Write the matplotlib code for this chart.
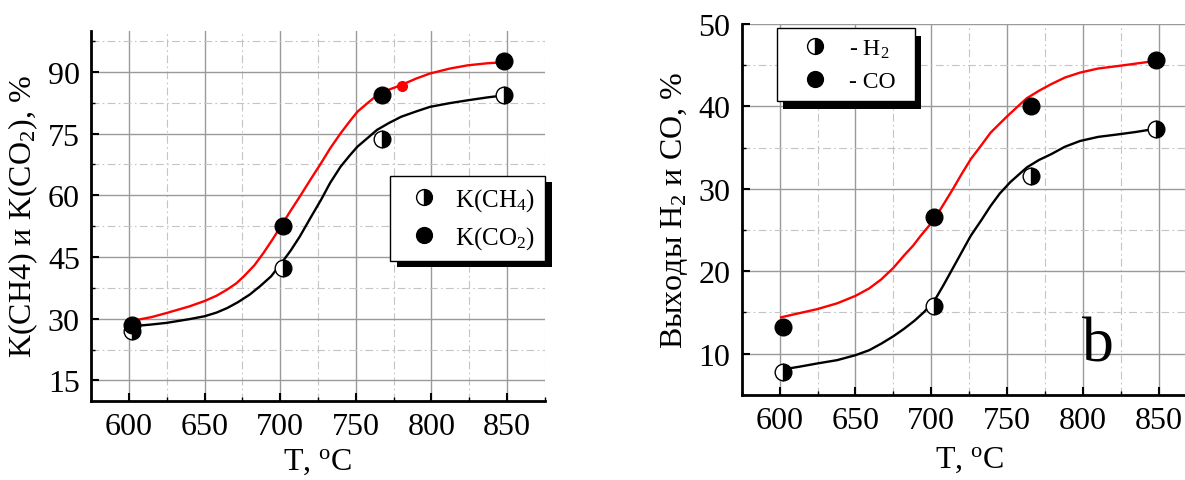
import matplotlib
matplotlib.use("Agg")
import matplotlib.pyplot as plt
from matplotlib.patches import Rectangle
from matplotlib.ticker import MultipleLocator
from matplotlib.transforms import IdentityTransform

plt.rcParams['font.family'] = ['Liberation Serif', 'DejaVu Serif']
plt.rcParams['mathtext.fontset'] = 'custom'
plt.rcParams['mathtext.rm'] = 'Liberation Serif'
plt.rcParams['mathtext.it'] = 'Liberation Serif:italic'

# --- panel a: conversion of CH4 and CO2 ---
T_pts_a = [602, 702, 767, 848]
ch4_pts = [27.0, 42.3, 73.6, 84.3]
co2_pts = [28.4, 52.5, 84.3, 92.6]
T_extra = [780.5]
co2_extra = [86.5]

T_co2_fit = [601, 615, 625, 640, 650, 658, 665, 671, 676, 683, 689, 695, 701, 707, 713, 720, 727, 733,
             740, 746, 751, 758, 764, 772, 780, 790, 799, 812, 824, 837, 850]
co2_fit = [29.4, 30.4, 31.4, 33.0, 34.3, 35.6, 37.1, 38.6, 40.3, 43.0, 46.0, 49.3, 52.8, 56.3, 59.7, 63.8,
           67.8, 71.4, 75.1, 78.0, 80.3, 82.5, 84.3, 85.7, 86.8, 88.4, 89.6, 90.8, 91.6, 92.1, 92.4]
T_ch4_fit = [603, 615, 625, 640, 650, 658, 665, 672, 680, 687, 694, 701, 707, 713, 720, 727, 733, 740,
             746, 751, 758, 764, 772, 780, 790, 799, 812, 824, 837, 848]
ch4_fit = [28.2, 28.6, 29.0, 29.9, 30.6, 31.5, 32.6, 34.0, 35.9, 38.0, 40.3, 43.6, 46.6, 50.0, 54.5, 58.9,
           63.0, 67.0, 69.7, 71.8, 74.0, 75.9, 77.6, 79.1, 80.4, 81.5, 82.4, 83.1, 83.8, 84.3]

# --- panel b: yields of H2 and CO ---
T_pts_b = [602, 702, 766, 848]
h2_pts = [7.7, 15.8, 31.6, 37.3]
co_pts = [13.2, 26.6, 40.0, 45.6]

T_co_fit = [601, 613, 625, 638, 650, 659, 667, 675, 682, 688, 693, 698, 702, 708, 714, 720, 726, 733,
            739, 745, 750, 757, 763, 771, 779, 788, 798, 810, 823, 835, 847]
co_fit = [14.4, 14.9, 15.4, 16.1, 17.0, 17.9, 19.0, 20.4, 21.9, 23.1, 24.3, 25.4, 26.3, 28.1, 29.9, 31.8,
          33.6, 35.3, 36.8, 37.9, 38.8, 40.0, 41.0, 41.9, 42.7, 43.5, 44.1, 44.6, 44.9, 45.2, 45.5]
T_h2_fit = [603, 613, 625, 638, 650, 659, 667, 675, 682, 689, 695, 702, 708, 714, 720, 726, 733, 739,
            745, 752, 763, 771, 779, 788, 798, 810, 823, 835, 845]
h2_fit = [8.1, 8.4, 8.8, 9.2, 9.8, 10.4, 11.2, 12.1, 13.0, 14.0, 15.0, 16.4, 18.3, 20.3, 22.3, 24.3,
          26.2, 27.9, 29.4, 30.8, 32.6, 33.5, 34.2, 35.1, 35.8, 36.3, 36.6, 36.9, 37.2]

x_ticks = [600, 650, 700, 750, 800, 850]

fig = plt.figure(figsize=(11.85, 4.81), dpi=100)
ax1 = fig.add_axes([0.0768, 0.1642, 0.3831, 0.7698])
ax2 = fig.add_axes([0.6259, 0.1773, 0.3841, 0.7707])

half = dict(marker='o', ms=12, ls='none', fillstyle='right', markerfacecolor='black',
            markerfacecoloralt='white', markeredgecolor='black', markeredgewidth=1, zorder=4)
full = dict(marker='o', ms=12, ls='none', color='black', zorder=4)


def style_axes(ax, ylim, ymajor, yminor, xpad):
    ax.set_xlim(575, 875)
    ax.set_ylim(*ylim)
    ax.set_xticks(x_ticks)
    ax.xaxis.set_minor_locator(MultipleLocator(25))
    ax.yaxis.set_major_locator(MultipleLocator(ymajor))
    ax.yaxis.set_minor_locator(MultipleLocator(yminor))
    for s in ('top', 'right'):
        ax.spines[s].set_visible(False)
    for s in ('left', 'bottom'):
        ax.spines[s].set_linewidth(2)
    ax.tick_params(which='major', direction='in', length=6, width=1.5, labelsize=23, pad=8)
    ax.tick_params(which='minor', direction='in', length=3, width=1)
    ax.grid(which='major', color='#9a9a9a', lw=1, ls='-')
    ax.grid(which='minor', color='#c4c4c4', lw=0.8, ls=(0, (7, 3, 1.5, 3)))
    ax.set_axisbelow(True)
    ax.set_xlabel(r'T, $^\mathrm{o}$C', fontsize=23, labelpad=xpad)


def add_legend(ax, handles, labels, anchor, fs, hl, tp, ls):
    leg = ax.legend(handles, labels, loc='upper left', bbox_to_anchor=anchor, mode='expand',
                    fontsize=fs, frameon=True, fancybox=False, framealpha=1, edgecolor='black',
                    borderpad=0.4, labelspacing=ls, handlelength=hl, handletextpad=tp,
                    borderaxespad=0, numpoints=1, markerscale=0.95)
    leg.get_frame().set_linewidth(1)
    return leg


# panel a
style_axes(ax1, (10, 100), 15, 7.5, 4)
ax1.plot(T_co2_fit, co2_fit, color='red', lw=1.7, zorder=3)
ax1.plot(T_ch4_fit, ch4_fit, color='black', lw=1.7, zorder=3)
h_ch4, = ax1.plot(T_pts_a, ch4_pts, **half)
h_co2, = ax1.plot(T_pts_a, co2_pts, **full)
ax1.plot(T_extra, co2_extra, 'o', color='red', ms=7, zorder=4)
ax1.set_ylabel(r'K(CH4) и K(CO$_2$), %', fontsize=23, labelpad=6)
leg1 = add_legend(ax1, [h_ch4, h_co2], [r'K(CH$_4$)', r'K(CO$_2$)'],
                  (0.6586, 0.6076, 0.3414, 0), 18, 1.9, 0.3, 0.45)

# panel b
style_axes(ax2, (5, 50), 10, 5, 7)
ax2.plot(T_co_fit, co_fit, color='red', lw=1.7, zorder=3)
ax2.plot(T_h2_fit, h2_fit, color='black', lw=1.7, zorder=3)
h_h2, = ax2.plot(T_pts_b, h2_pts, **half)
h_co, = ax2.plot(T_pts_b, co_pts, **full)
ax2.set_ylabel(r'Выходы H$_2$ и CO, %', fontsize=23, labelpad=6)
ax2.text(810, 9.2, 'b', fontsize=46, ha='center', va='baseline')
leg2 = add_legend(ax2, [h_h2, h_co], [r'- H$_2$', '- CO'],
                  (0.0776, 0.989, 0.3032, 0), 17, 2.4, 0.25, 0.45)

# black drop shadows behind the legend boxes
fig.canvas.draw()
renderer = fig.canvas.get_renderer()
for ax, leg, (dx, dy) in ((ax1, leg1, (7, 6)), (ax2, leg2, (6, 8))):
    bb = leg.get_window_extent(renderer)
    shadow = Rectangle((bb.x0 + dx, bb.y0 - dy), bb.width, bb.height, transform=IdentityTransform(),
                       facecolor='black', edgecolor='none', zorder=leg.get_zorder() - 0.1, clip_on=False)
    ax.add_artist(shadow)

fig.savefig('out.png', dpi=100)
